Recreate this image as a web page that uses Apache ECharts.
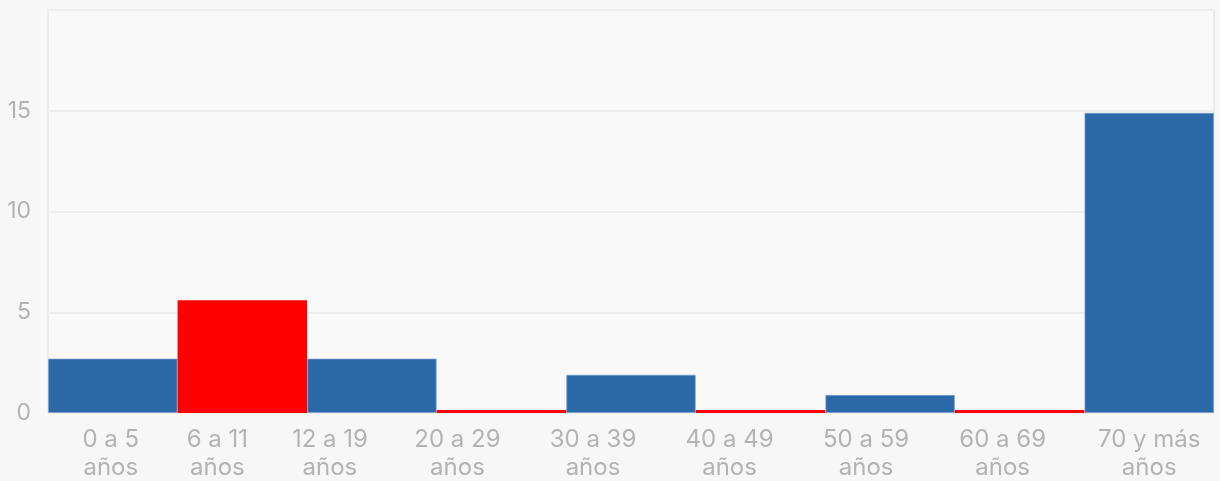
<!DOCTYPE html>
<html>
<head>
<meta charset="utf-8">
<script src="https://cdn.jsdelivr.net/npm/echarts@6/dist/echarts.min.js"></script>
<style>
html,body{margin:0;padding:0;background:#f7f7f7;}
#chart{width:1220px;height:481px;}
</style>
</head>
<body>
<div id="chart"></div>
<script>
const categories = ['0 a 5\naños','6 a 11\naños','12 a 19\naños','20 a 29\naños','30 a 39\naños','40 a 49\naños','50 a 59\naños','60 a 69\naños','70 y más\naños'];
const values = [2.7, 5.6, 2.7, 0, 1.9, 0, 0.9, 0, 14.9];
const highlighted = [1, 3, 5, 7];
const yTicks = [0, 5, 10, 15, 20];

// horizontal label shift (px) relative to bar centre, as seen in the reference
const labelShift = [-2, -25, -42, -44, -38, -31, -24, -17, 0];

const rich = {};
labelShift.forEach((d, i) => {
  rich['r' + i] = {
    fontFamily: 'Inter, "Noto Sans", sans-serif',
    fontSize: 24,
    color: '#b3b3b3',
    lineHeight: 28,
    padding: d < 0 ? [0, -2 * d, 0, 0] : [0, 0, 0, 2 * d]
  };
});

const chart = echarts.init(document.getElementById('chart'), null, {renderer: 'canvas'});
chart.setOption({
  backgroundColor: '#f7f7f7',
  animation: false,
  grid: {
    left: 48, right: 6, top: 10, bottom: 68,
    show: true, backgroundColor: '#f9f9f9', borderColor: '#ebebeb', borderWidth: 2
  },
  xAxis: {
    type: 'category',
    data: categories,
    axisLine: {show: false},
    axisTick: {show: false},
    axisLabel: {
      interval: 0,
      margin: 13,
      formatter: (v, i) => v.split('\n').map(s => '{r' + i + '|' + s + '}').join('\n'),
      rich: rich
    }
  },
  yAxis: {
    type: 'value',
    min: yTicks[0], max: yTicks[yTicks.length - 1], interval: 5,
    axisLine: {show: false},
    axisTick: {show: false},
    splitLine: {lineStyle: {color: '#ededed', width: 2}},
    axisLabel: {
      margin: 17,
      fontFamily: 'Inter, "Noto Sans", sans-serif',
      fontSize: 23,
      color: '#b3b3b3',
      formatter: v => v === 20 ? '' : String(v)
    }
  },
  series: [{
    type: 'bar',
    barWidth: '100%',
    barMinHeight: 3,
    data: values.map((v, i) => ({
      value: v,
      itemStyle: {
        color: highlighted.includes(i) ? '#ff0000' : '#2b68a8',
        borderColor: highlighted.includes(i) ? '#ff0000' : 'rgba(120,160,205,0.7)',
        borderWidth: highlighted.includes(i) ? 0 : 1
      }
    }))
  }]
});
</script>
</body>
</html>
